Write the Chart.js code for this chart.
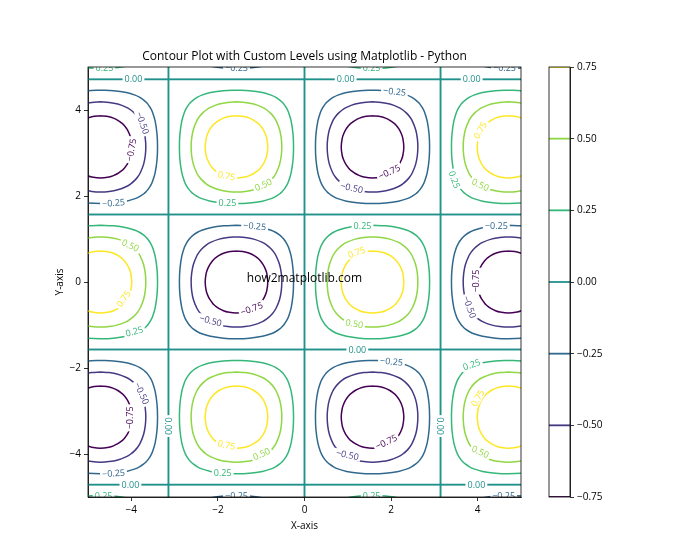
<!DOCTYPE html>
<html><head><meta charset="utf-8">
<script src="https://cdn.jsdelivr.net/npm/chart.js@4/dist/chart.umd.min.js"></script>
<style>
html,body{margin:0;padding:0;background:#fff;}
#wrap{position:relative;width:700px;height:560px;background:#fff;}
canvas{position:absolute;left:0;top:0;}
</style></head><body>
<div id="wrap"><canvas id="main" width="700" height="560"></canvas><canvas id="cbar" width="700" height="560"></canvas></div>
<script>
// ---- data ----
const levels = [-0.75, -0.5, -0.25, 0, 0.25, 0.5, 0.75];
const levelColors = ['#440154', '#443a83', '#31688e', '#21918c', '#35b779', '#8fd744', '#fde725'];
const xTicks = [-4, -2, 0, 2, 4];
const yTicks = [-4, -2, 0, 2, 4];
const cbarTicks = [-0.75, -0.5, -0.25, 0, 0.25, 0.5, 0.75];
// centres of the extrema cells and their sign (rows follow peakY)
const peakX = [-4.712, -1.571, 1.571, 4.712];
const peakY = [-6.283, -3.142, 0, 3.142, 6.283];
const peakSign = [
  [1, -1, 1, -1],
  [-1, 1, -1, 1],
  [1, -1, 1, -1],
  [-1, 1, -1, 1],
  [1, -1, 1, -1]
];
// quarter outline (dx, dy from the cell centre) of the |0.25|, |0.50|, |0.75| contours
const ring25 = [[0,1.318],[0.3,1.306],[0.6,1.263],[0.8,1.204],[0.9,1.157],[1.0,1.090],[1.047,1.047],[1.090,1.0],[1.157,0.9],[1.204,0.8],[1.263,0.6],[1.306,0.3],[1.318,0]];
const ring50 = [[0,1.047],[0.2,1.035],[0.4,0.997],[0.6,0.920],[0.7,0.858],[0.785,0.785],[0.858,0.7],[0.920,0.6],[0.997,0.4],[1.035,0.2],[1.047,0]];
const ring75 = [[0,0.723],[0.2,0.700],[0.3,0.668],[0.4,0.619],[0.5,0.547],[0.524,0.524],[0.547,0.5],[0.619,0.4],[0.668,0.3],[0.700,0.2],[0.723,0]];
const ringMags = [0.25, 0.5, 0.75];
const rings = [ring25, ring50, ring75];
const zeroHalf = 1.571; // half side of the zero-level box around each cell
// inline contour labels: x, y, level index, angle (deg)
const contourLabels = [
  [-4.62,4.97,4,0],[-1.57,4.97,2,0],[1.55,4.97,4,0],[4.62,4.97,2,0],
  [-3.95,4.712,3,0],[0.95,4.712,3,0],[3.86,4.712,3,0],
  [-4.0,3.07,0,-80],[-3.74,3.70,1,70],[-4.41,1.84,2,-4],
  [-1.80,2.47,6,12],[-0.95,2.26,5,-25],[-1.78,1.83,4,0],
  [1.96,2.56,0,-25],[1.09,2.19,1,12],[2.08,4.43,2,6],
  [4.06,3.53,6,-60],[3.46,2.38,4,70],[4.06,2.26,5,25],
  [-4.02,0.85,5,25],[-4.18,-0.39,6,-55],[-3.93,-1.15,4,-15],
  [-1.15,1.30,2,5],[-1.22,-0.62,0,-20],[-2.17,-0.90,1,15],
  [1.34,1.31,4,0],[1.20,0.69,6,-20],[1.15,-0.97,5,10],
  [4.43,1.31,2,0],[3.97,0.02,0,-90],[3.81,-0.58,1,70],
  [1.22,-1.571,3,0],
  [-3.76,-2.59,1,65],[-4.02,-3.16,0,-90],[-4.41,-4.45,2,-4],
  [-3.142,-3.35,3,90],[3.142,-3.35,3,90],
  [-1.80,-3.79,6,12],[-0.99,-4.0,5,-25],[-1.89,-4.45,4,0],
  [1.89,-3.72,0,-25],[0.99,-4.02,1,12],[2.01,-1.85,2,5],
  [3.86,-1.92,4,-20],[4.0,-2.70,6,-60],[4.06,-3.95,5,25],
  [-4.02,-4.712,3,0],[3.97,-4.712,3,0],
  [-4.64,-4.97,4,0],[-1.57,-4.97,2,0],[1.55,-4.97,4,0],[4.6,-4.97,2,0]
];

const FONT = '"Open Sans", "DejaVu Sans", sans-serif';
const fmtTick = v => (v < 0 ? '\u2212' + Math.abs(v) : String(v));
const fmt2 = v => (v < 0 ? '\u2212' + Math.abs(v).toFixed(2) : v.toFixed(2));

// ---- build datasets ----
function loopFrom(q) {
  const out = [];
  q.forEach(([a, b]) => out.push([a, b]));
  q.slice().reverse().slice(1).forEach(([a, b]) => out.push([a, -b]));
  q.slice(1).forEach(([a, b]) => out.push([-a, -b]));
  q.slice().reverse().slice(1).forEach(([a, b]) => out.push([-a, b]));
  return out;
}
const datasets = [];
peakY.forEach((cy, r) => {
  peakX.forEach((cx, c) => {
    const s = peakSign[r][c];
    const h = zeroHalf;
    const box = [[-h,-h],[h,-h],[h,h],[-h,h],[-h,-h]];
    datasets.push({
      data: box.map(([a, b]) => ({x: cx + a, y: cy + b})),
      borderColor: levelColors[3], borderWidth: 1.5, tension: 0, showLine: true, pointRadius: 0, fill: false
    });
    rings.forEach((q, i) => {
      const lv = s * ringMags[i];
      const li = levels.indexOf(lv);
      datasets.push({
        data: loopFrom(q).map(([a, b]) => ({x: cx + a, y: cy + b})),
        borderColor: levelColors[li], borderWidth: 1.5, tension: 0.35, showLine: true, pointRadius: 0, fill: false
      });
    });
  });
});

const overlay = {
  id: 'overlay',
  afterDatasetsDraw(chart) {
    const {ctx, chartArea: a, scales: {x, y}} = chart;
    ctx.save();
    ctx.beginPath(); ctx.rect(a.left, a.top, a.right - a.left, a.bottom - a.top); ctx.clip();
    ctx.font = '9px ' + FONT; ctx.textAlign = 'center'; ctx.textBaseline = 'middle';
    contourLabels.forEach(([lx, ly, li, ang]) => {
      const px = x.getPixelForValue(lx), py = y.getPixelForValue(ly);
      const t = fmt2(levels[li]);
      const w = ctx.measureText(t).width;
      ctx.save(); ctx.translate(px, py); ctx.rotate(ang * Math.PI / 180);
      ctx.fillStyle = '#fff'; ctx.fillRect(-w / 2 - 2, -4.5, w + 4, 9);
      ctx.fillStyle = levelColors[li]; ctx.fillText(t, 0, 0.5);
      ctx.restore();
    });
    ctx.restore();
    ctx.save();
    ctx.strokeStyle = '#000'; ctx.lineWidth = 0.8;
    ctx.strokeRect(a.left, a.top, a.right - a.left, a.bottom - a.top);
    ctx.fillStyle = '#000'; ctx.textAlign = 'center'; ctx.textBaseline = 'middle';
    ctx.font = '12px ' + FONT;
    ctx.fillText('how2matplotlib.com', x.getPixelForValue(0), y.getPixelForValue(0) - 3);
    ctx.fillText('Contour Plot with Custom Levels using Matplotlib - Python', (a.left + a.right) / 2, 57);
    ctx.font = '10px ' + FONT;
    ctx.fillText('X-axis', (a.left + a.right) / 2, 526);
    ctx.translate(60, (a.top + a.bottom) / 2); ctx.rotate(-Math.PI / 2);
    ctx.fillText('Y-axis', 0, 0);
    ctx.restore();
  }
};

const axisCommon = {
  type: 'linear', min: -5, max: 5,
  grid: {display: true, drawOnChartArea: false, drawTicks: true, tickLength: 4, color: '#000', lineWidth: 0.8},
  border: {display: true, color: '#000', width: 0.8},
  ticks: {color: '#000', font: {family: FONT, size: 10}, padding: 3, maxRotation: 0, autoSkip: false, callback: v => fmtTick(v)}
};

new Chart(document.getElementById('main'), {
  type: 'scatter',
  data: {datasets},
  options: {
    responsive: false, animation: false, events: [],
    layout: {padding: {left: 0, right: 179, top: 67, bottom: 0}},
    plugins: {legend: {display: false}, tooltip: {enabled: false}, title: {display: false}},
    scales: {
      x: Object.assign({}, axisCommon, {
        afterFit(s) { s.height = 63; },
        afterBuildTicks(s) { s.ticks = xTicks.map(v => ({value: v})); }
      }),
      y: Object.assign({}, axisCommon, {
        afterFit(s) { s.width = 88; },
        afterBuildTicks(s) { s.ticks = yTicks.map(v => ({value: v})); }
      })
    }
  },
  plugins: [overlay]
});

// ---- colorbar ----
const cbDatasets = levels.map((lv, i) => ({
  data: [{x: 0, y: lv}, {x: 1, y: lv}],
  borderColor: levelColors[i], borderWidth: 1.8, showLine: true, pointRadius: 0, fill: false, tension: 0
}));
const cbFrame = {
  id: 'cbFrame',
  afterDatasetsDraw(chart) {
    const {ctx, chartArea: a} = chart;
    ctx.save(); ctx.strokeStyle = '#000'; ctx.lineWidth = 0.8;
    ctx.strokeRect(a.left, a.top, a.right - a.left, a.bottom - a.top); ctx.restore();
  }
};
new Chart(document.getElementById('cbar'), {
  type: 'scatter',
  data: {datasets: cbDatasets},
  options: {
    responsive: false, animation: false, events: [],
    layout: {padding: {left: 549, right: 90, top: 67, bottom: 63}},
    plugins: {legend: {display: false}, tooltip: {enabled: false}},
    scales: {
      x: {type: 'linear', min: 0, max: 1, display: false},
      y: {
        type: 'linear', position: 'right', min: -0.75, max: 0.75,
        afterFit(s) { s.width = 40; },
        afterBuildTicks(s) { s.ticks = cbarTicks.map(v => ({value: v})); },
        grid: {display: true, drawOnChartArea: false, drawTicks: true, tickLength: 4, color: '#000', lineWidth: 0.8},
        border: {display: true, color: '#000', width: 0.8},
        ticks: {color: '#000', font: {family: FONT, size: 10}, padding: 3, autoSkip: false, callback: v => fmt2(v)}
      }
    }
  },
  plugins: [cbFrame]
});
</script>
</body></html>
